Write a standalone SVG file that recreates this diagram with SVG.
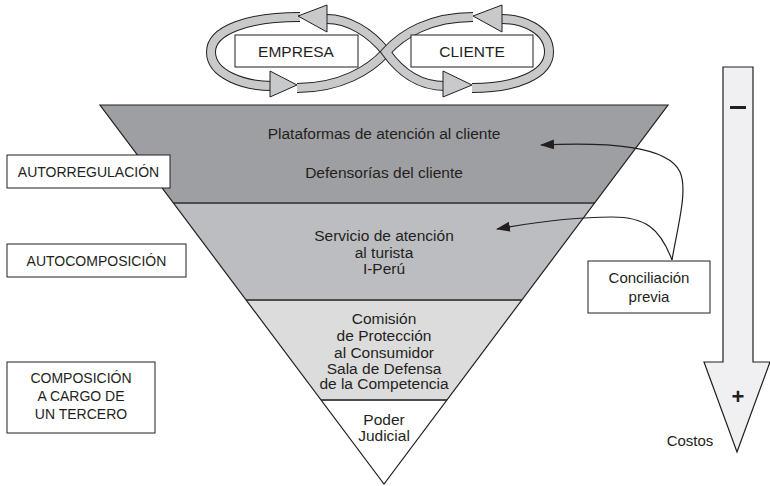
<svg xmlns="http://www.w3.org/2000/svg" width="770" height="486" viewBox="0 0 770 486">
<defs>
<style>
text{font-family:"Liberation Sans",Arial,sans-serif;fill:#231f20;}
.t{font-size:15.5px;text-anchor:middle;}
.lbl{font-size:14px;text-anchor:middle;}
.box{fill:#fff;stroke:#231f20;stroke-width:1;}
.bandO{fill:none;stroke:#231f20;stroke-width:10;}
.bandI{fill:none;stroke:#c8c9cb;stroke-width:8;}
.head{fill:#c8c9cb;stroke:#231f20;stroke-width:1;stroke-linejoin:miter;}
.conn{fill:none;stroke:#231f20;stroke-width:1.2;}
.sep{stroke:#4d4d4f;stroke-width:2;}
</style>
<marker id="ah" markerWidth="14" markerHeight="10" refX="13" refY="5" orient="auto" markerUnits="userSpaceOnUse">
<path d="M0,0 L14,5 L0,10 Z" fill="#231f20"/>
</marker>
</defs>

<g id="cycle-empresa">
<path class="bandO" d="M300,17 C248,17 211,30 211,52 C211,75 245,86 272,86"/>
<path class="bandI" d="M300,17 C248,17 211,30 211,52 C211,75 245,86 272,86"/>
<path class="bandO" d="M297,88 C340,88 370,70 386,52 C370,32 348,19 327,19"/>
<path class="bandI" d="M297,88 C340,88 370,70 386,52 C370,32 348,19 327,19"/>
<polygon class="head" points="327,5 298,16 327,32"/>
<polygon class="head" points="270,71 297,85 270,97"/>
<rect class="box" x="235" y="35" width="123" height="32"/>
<text x="296" y="57" style="font-size:15.5px;text-anchor:middle">EMPRESA</text>
</g>

<g id="cycle-cliente">
<path class="bandO" d="M473,17 C430,17 402,34 386,52 C400,72 420,86 445,86"/>
<path class="bandI" d="M473,17 C430,17 402,34 386,52 C400,72 420,86 445,86"/>
<path class="bandO" d="M472,88 C515,88 549,75 549,52 C549,29 522,19 502,19"/>
<path class="bandI" d="M472,88 C515,88 549,75 549,52 C549,29 522,19 502,19"/>
<polygon class="head" points="502,5 473,16 502,32"/>
<polygon class="head" points="443,71 472,85 443,97"/>
<rect class="box" x="411" y="35" width="122" height="32"/>
<text x="472" y="57" style="font-size:15.5px;text-anchor:middle">CLIENTE</text>
</g>

<g id="layer-autorregulacion">
<polygon points="100,105 668,105 594.6,203 173.4,203" fill="#9e9fa2"/>
<text class="t" x="384" y="138.5">Plataformas de atención al cliente</text>
<text class="t" x="384" y="177.5">Defensorías del cliente</text>
</g>
<g id="layer-autocomposicion">
<polygon points="173.4,203 594.6,203 521.9,300 246.1,300" fill="#bcbdc0"/>
<text class="t" x="384" y="241">Servicio de atención</text>
<text class="t" x="384" y="257.5">al turista</text>
<text class="t" x="384" y="273.5">I-Perú</text>
</g>
<g id="layer-tercero">
<polygon points="246.1,300 521.9,300 447,400 321,400" fill="#dcdcdd"/>
<text class="t" x="384" y="323.5">Comisión</text>
<text class="t" x="384" y="340.5">de Protección</text>
<text class="t" x="384" y="357.5">al Consumidor</text>
<text class="t" x="384" y="373.5">Sala de Defensa</text>
<text class="t" x="384" y="389">de la Competencia</text>
</g>
<g id="layer-judicial">
<polygon points="321,400 447,400 384,484" fill="#ffffff"/>
<text class="t" x="384" y="425">Poder</text>
<text class="t" x="384" y="441">Judicial</text>
</g>
<g id="triangle-lines">
<line class="sep" x1="173.4" y1="203" x2="594.6" y2="203"/>
<line class="sep" x1="246.1" y1="300" x2="521.9" y2="300"/>
<line class="sep" x1="321" y1="400" x2="447" y2="400"/>
<polygon points="100,105 668,105 384,484" fill="none" stroke="#231f20" stroke-width="1.2"/>
</g>

<g id="box-autorregulacion">
<rect class="box" x="7" y="155" width="163" height="33"/>
<text class="lbl" x="88.5" y="177">AUTORREGULACIÓN</text>
</g>
<g id="box-autocomposicion">
<rect class="box" x="7" y="244" width="179" height="33"/>
<text class="lbl" x="96.5" y="266">AUTOCOMPOSICIÓN</text>
</g>
<g id="box-tercero">
<rect class="box" x="7" y="362" width="148" height="71"/>
<text class="lbl" x="81" y="383">COMPOSICIÓN</text>
<text class="lbl" x="81" y="401">A CARGO DE</text>
<text class="lbl" x="81" y="419">UN TERCERO</text>
</g>

<g id="box-conciliacion">
<rect class="box" x="588" y="261" width="122" height="52"/>
<text x="649" y="283" style="font-size:15px;text-anchor:middle">Conciliación</text>
<text x="649" y="302" style="font-size:15px;text-anchor:middle">previa</text>
</g>

<g id="costos">
<polygon points="723,67 753,67 753,362 770,362 737,452 704,362 723,362" fill="#f0f0f2" stroke="#231f20" stroke-width="1.2"/>
<rect x="730" y="106" width="16" height="3" fill="#231f20"/>
<text x="738" y="404" style="font-size:22px;font-weight:bold;text-anchor:middle">+</text>
<text x="690" y="446" style="font-size:15px;text-anchor:middle">Costos</text>
</g>

<g id="connectors">
<path class="conn" marker-end="url(#ah)" d="M672,260 C678,225 688,190 680,172 C668,146 610,142 541,145"/>
<path class="conn" marker-end="url(#ah)" d="M672,260 C660,228 645,217 612,217 C570,217 530,223 497,229"/>
</g>
</svg>
